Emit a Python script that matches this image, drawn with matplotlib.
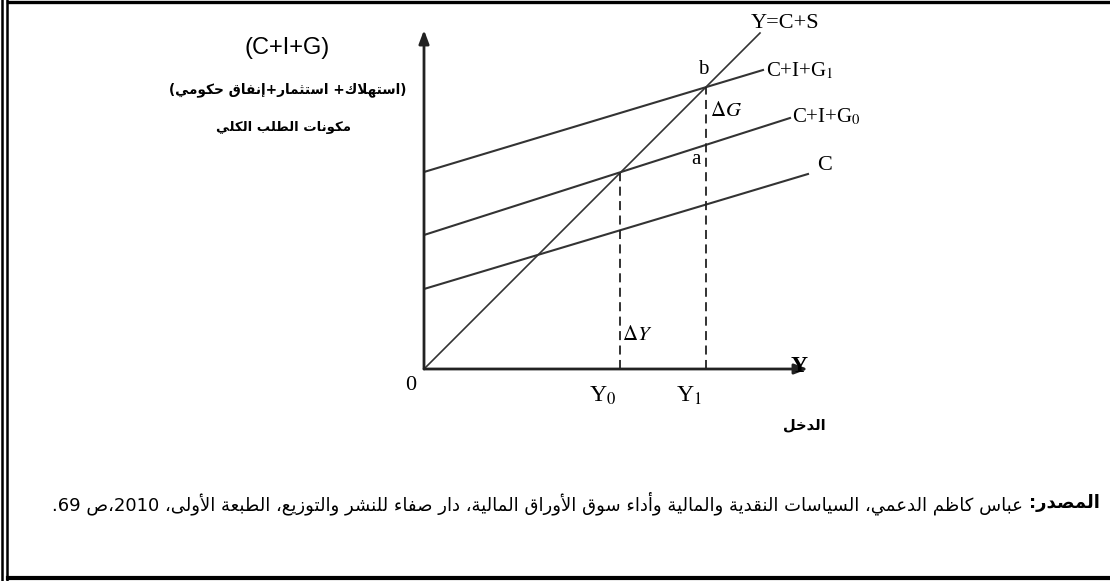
import re
import matplotlib
matplotlib.use("Agg")
import matplotlib.pyplot as plt

# ---------- DATA --------------
# diagram units: origin of the axes, one unit ~ one pixel
line_45_x = [0, 336]
line_45_y = [0, 336]
c_x = [0, 384]
c_y = [80, 195]
g0_x = [0, 366]
g0_y = [134, 251]
g1_x = [0, 339]
g1_y = [197, 299]
y_eq = [196, 282]          # Y0, Y1 (equilibria on the 45 degree line)
y_axis_top = 339
x_axis_end = 384

y_title = "(C+I+G)"
y_label_ar1 = "(استهلاك+ استثمار+إنفاق حكومي)"
y_label_ar2 = "مكونات الطلب الكلي"
x_label_ar = "الدخل"
source_bold = "المصدر:"
source_text = " عباس كاظم الدعمي، السياسات النقدية والمالية وأداء سوق الأوراق المالية، دار صفاء للنشر والتوزيع، الطبعة الأولى، 2010،ص 69."
# ------------------------------


# ---------- ARABIC SHAPING ----
letters = "ءآأؤإئابةتثجحخدذرزسشصضطظعغفقكلمنهوىي"
counts = [1, 2, 2, 2, 2, 4, 2, 4, 2, 4,
          4, 4, 4, 4, 2, 2, 2, 2, 4, 4,
          4, 4, 4, 4, 4, 4, 4, 4, 4, 4,
          4, 4, 4, 2, 2, 4]
forms = {}
cp = 0xFE80
for ch, n in zip(letters, counts):
    forms[ch] = (cp, n)
    cp += n
lam_alef = {"آ": 0xFEF5, "أ": 0xFEF7, "إ": 0xFEF9, "ا": 0xFEFB}


def shape(s):
    units = []
    i = 0
    while i < len(s):
        ch = s[i]
        if ch == "ل" and i + 1 < len(s) and s[i + 1] in lam_alef:
            units.append((lam_alef[s[i + 1]], 2))
            i += 2
            continue
        if ch in forms:
            units.append(forms[ch])
        else:
            units.append((ch, 0))
        i += 1
    out = []
    for k, (base, n) in enumerate(units):
        if n == 0:
            out.append(base)
            continue
        prev = k > 0 and units[k - 1][1] == 4 and n >= 2
        nxt = n == 4 and k + 1 < len(units) and units[k + 1][1] >= 2
        if prev and nxt:
            idx = 3
        elif prev:
            idx = 1
        elif nxt:
            idx = 2
        else:
            idx = 0
        out.append(chr(base + idx))
    return "".join(out)


def rtl(s):
    v = shape(s)[::-1]
    v = v.translate(str.maketrans("()", ")("))
    return re.sub(r"[0-9A-Za-z]+", lambda m: m.group(0)[::-1], v)
# ------------------------------


# ---------- PLOT --------------
plt.rcParams["mathtext.fontset"] = "stix"
W, H = 1110, 581
fig = plt.figure(figsize=(W / 100, H / 100), dpi=100)

# page layer in pixels (frame, titles, source)
bg = fig.add_axes([0, 0, 1, 1])
bg.set_xlim(0, W)
bg.set_ylim(H, 0)
bg.axis("off")
bg.plot([8, W], [1.5, 1.5], color="black", lw=2.4)
bg.plot([2, 2], [0, H], color="black", lw=1.8)
bg.plot([6.5, 6.5], [0, H], color="black", lw=1.8)
bg.plot([8, W], [578, 578], color="black", lw=3.0)

bg.text(287, 48, y_title, fontsize=17, family="Liberation Sans", ha="center", va="center")
bg.text(288, 90, rtl(y_label_ar1), fontsize=9.8, family="DejaVu Sans", weight="bold",
        ha="center", va="center")
bg.text(283, 127, rtl(y_label_ar2), fontsize=9.5, family="DejaVu Sans", weight="bold",
        ha="center", va="center")
bg.text(804, 425, rtl(x_label_ar), fontsize=10.5, family="DejaVu Sans", weight="bold",
        ha="center", va="center")

sb = bg.text(1100, 503, rtl(source_bold), fontsize=13, family="DejaVu Sans", weight="bold",
             ha="right", va="center")
bg.annotate(rtl(source_text), xy=(0, 0.5), xycoords=sb, fontsize=13, family="DejaVu Sans",
            ha="right", va="center")

# diagram
ax = fig.add_axes([424 / W, (H - 369) / H, 420 / W, 360 / H])
ax.set_xlim(0, 420)
ax.set_ylim(0, 360)
ax.axis("off")

ax.annotate("", xy=(0, y_axis_top), xytext=(0, 0),
            arrowprops=dict(arrowstyle="-|>,head_length=0.8,head_width=0.3", color="#222222", lw=2.0,
                            shrinkA=0, shrinkB=0))
ax.annotate("", xy=(x_axis_end, 0), xytext=(0, 0),
            arrowprops=dict(arrowstyle="-|>,head_length=0.8,head_width=0.3", color="#222222", lw=2.0,
                            shrinkA=0, shrinkB=0))

line_color = "#333333"
ax.plot(line_45_x, line_45_y, color=line_color, lw=1.2)
ax.plot(c_x, c_y, color=line_color, lw=1.5)
ax.plot(g0_x, g0_y, color=line_color, lw=1.5)
ax.plot(g1_x, g1_y, color=line_color, lw=1.5)
for ye in y_eq:
    ax.plot([ye, ye], [0, ye], color="#222222", lw=1.3, linestyle=(0, (5, 3)))

serif = "Liberation Serif"
ax.text(361, 346, "Y=C+S", fontsize=16, family=serif, ha="center", va="center")
ax.text(342, 298, r"C+I+G$_1$", fontsize=15, family=serif, ha="left", va="center")
ax.text(368, 252, r"C+I+G$_0$", fontsize=15, family=serif, ha="left", va="center")
ax.text(401, 203, "C", fontsize=16, family=serif, ha="center", va="center")
ax.text(279, 299, "b", fontsize=15, family=serif, ha="center", va="center")
ax.text(272, 210, "a", fontsize=15, family=serif, ha="center", va="center")
ax.text(286, 259, r"$\Delta G$", fontsize=15, ha="left", va="center")
ax.text(198, 35, r"$\Delta Y$", fontsize=15, ha="left", va="center")
ax.text(-13, -17, "0", fontsize=16, family=serif, ha="center", va="center")
ax.text(179, -27, r"Y$_0$", fontsize=17, family=serif, ha="center", va="center")
ax.text(265, -27, r"Y$_1$", fontsize=17, family=serif, ha="center", va="center")
ax.text(375, 3, "Y", fontsize=17, family=serif, weight="bold", ha="center", va="center")

fig.savefig("out.png", dpi=100)
